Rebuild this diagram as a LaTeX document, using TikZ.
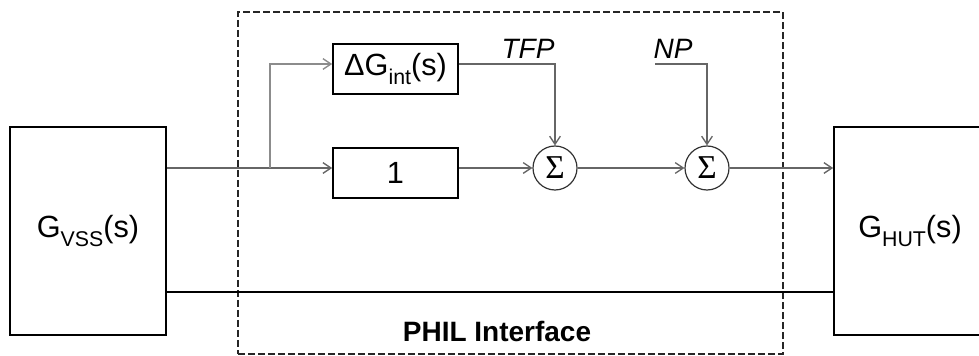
\documentclass[tikz,border=0pt]{standalone}
\usepackage{fontspec}
\setmainfont{Liberation Sans}
\newfontfamily\sigfont{Liberation Serif}
\usetikzlibrary{arrows.meta}
\newcommand\lsub[1]{\raisebox{-6.5pt}{\fontsize{16}{16}\selectfont #1}}
\begin{document}
\begin{tikzpicture}[x=0.75pt,y=-0.75pt,
  blk/.style={draw=black,line width=1.3pt,inner sep=0pt,font=\fontsize{23}{26}\selectfont},
  sumnode/.style={circle,draw=black!80,line width=0.9pt,minimum size=33pt,inner sep=0pt,font=\sigfont\fontsize{25}{28}\selectfont},
  conn/.style={draw=black!60,line width=1pt},
  arr/.style={conn,-{Straight Barb[length=6pt,width=8pt]}},
  lbl/.style={font=\fontsize{21}{24}\selectfont\itshape,inner sep=0pt},
  dashbox/.style={draw=black!85,line width=1.1pt,dash pattern=on 5pt off 2.5pt,inner sep=0pt}
]
\clip (0,0) rectangle (979,356);
\coordinate (yup) at (0,64);
\coordinate (ymain) at (0,168);
\coordinate (ylow) at (0,292);
\coordinate (br) at (270,168);
\coordinate (npstart) at (655,64);

\node[dashbox,minimum width=408.75pt,minimum height=256.5pt] (phil) at (510.5,183) {};
\node[font=\fontsize{21}{24}\selectfont\bfseries,inner sep=0pt] (philtxt) at (497,331) {PHIL Interface};

\node[blk,minimum width=117pt,minimum height=156pt] (vss) at (88,231) {G\lsub{VSS}(s)};
\node[blk,minimum width=114pt,minimum height=156pt] (hut) at (910,231) {G\lsub{HUT}(s)};
\node[blk,minimum width=93.75pt,minimum height=37.5pt] (dgain) at (395.5,69) {ΔG\lsub{int}(s)};
\node[blk,minimum width=93.75pt,minimum height=37.5pt] (one) at (395.5,173) {1};
\node[sumnode] (s1) at (555,168) {\raisebox{-1pt}{Σ}};
\node[sumnode] (s2) at (707,168) {\raisebox{-1pt}{Σ}};
\node[lbl] (tfp) at (528,49) {TFP};
\node[lbl] (np) at (673,49) {NP};

\draw[conn] (vss.east |- ymain) -- (br);
\draw[arr] (br) -- (one.west |- br);
\draw[arr,draw=black!45] (br) -- (br |- yup) -- (dgain.west |- yup);
\draw[arr] (one.east |- ymain) -- (s1.west);
\draw[arr] (dgain.east |- yup) -| (s1.north);
\draw[arr] (s1.east) -- (s2.west);
\draw[arr] (npstart) -| (s2.north);
\draw[arr] (s2.east) -- (hut.west |- ymain);
\draw[line width=1.3pt] (vss.east |- ylow) -- (hut.west |- ylow);
\end{tikzpicture}
\end{document}
